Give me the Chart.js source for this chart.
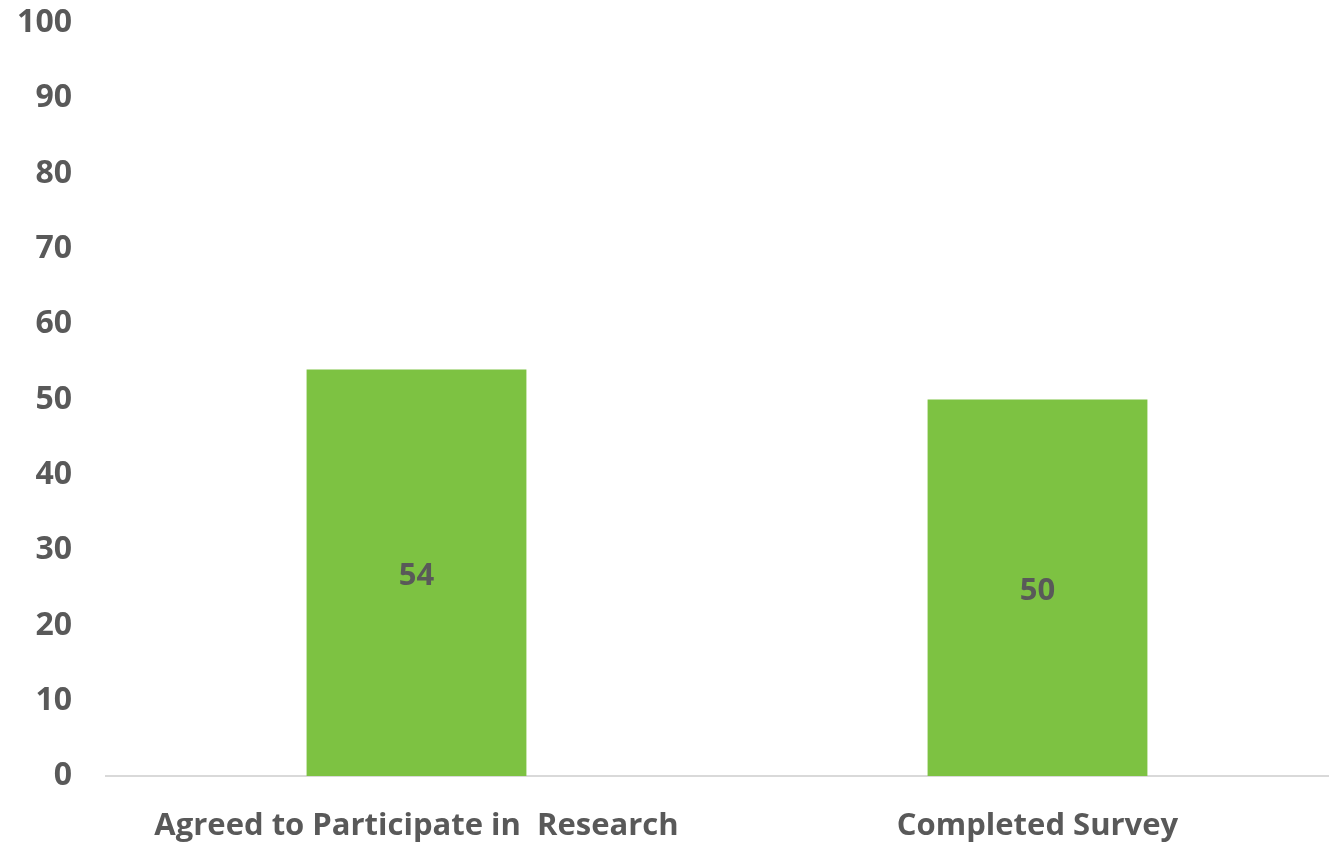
<!DOCTYPE html>
<html>
<head>
<meta charset="utf-8">
<script src="https://cdn.jsdelivr.net/npm/chart.js@4"></script>
<style>
  html, body { margin: 0; padding: 0; background: #fff; overflow: hidden; }
  #wrap { width: 1348px; height: 845px; position: relative; }
</style>
</head>
<body>
<div id="wrap"><canvas id="surveyChart"></canvas></div>
<script>
// Chart data
const categories = ['Agreed to Participate in  Research', 'Completed Survey'];
const participantCounts = [54, 50];
const yTicks = [0, 10, 20, 30, 40, 50, 60, 70, 80, 90, 100];

const BAR_COLOR = '#7DC242';
const TEXT_COLOR = '#595959';
const FONT_FAMILY = '"Open Sans", sans-serif';

// Value labels drawn in the middle of each bar
const barValueLabels = {
  id: 'barValueLabels',
  afterDatasetsDraw(chart) {
    const { ctx } = chart;
    ctx.save();
    ctx.font = `bold 31px ${FONT_FAMILY}`;
    ctx.fillStyle = TEXT_COLOR;
    ctx.textAlign = 'center';
    ctx.textBaseline = 'middle';
    chart.data.datasets.forEach((dataset, i) => {
      chart.getDatasetMeta(i).data.forEach((bar, index) => {
        const mid = (bar.y + bar.base) / 2;
        ctx.fillText(dataset.data[index], bar.x, mid + 3);
      });
    });
    ctx.restore();
  }
};

new Chart(document.getElementById('surveyChart'), {
  type: 'bar',
  data: {
    labels: categories,
    datasets: [{
      data: participantCounts,
      backgroundColor: BAR_COLOR,
      borderWidth: 0,
      barPercentage: 0.354,
      categoryPercentage: 1
    }]
  },
  plugins: [barValueLabels],
  options: {
    responsive: true,
    maintainAspectRatio: false,
    animation: false,
    layout: { padding: { top: 23, left: 0, right: 0, bottom: 0 } },
    plugins: {
      legend: { display: false },
      tooltip: { enabled: false }
    },
    scales: {
      x: {
        grid: { display: false, drawTicks: false },
        border: { display: true, color: '#D9D9D9', width: 2 },
        ticks: {
          font: { family: FONT_FAMILY, size: 31, weight: 'bold' },
          color: TEXT_COLOR,
          padding: 32,
          maxRotation: 0,
          autoSkip: false
        },
        afterFit(scale) { scale.height = 69; }
      },
      y: {
        min: 0,
        max: 100,
        afterBuildTicks(scale) { scale.ticks = yTicks.map(v => ({ value: v })); },
        grid: { display: false, drawTicks: false },
        border: { display: false },
        ticks: {
          font: { family: FONT_FAMILY, size: 32, weight: 'bold' },
          color: TEXT_COLOR,
          padding: 34
        },
        afterFit(scale) {
          scale.width = 106;
          scale.paddingTop = 0;
          scale.paddingBottom = 0;
        }
      }
    }
  }
});
</script>
</body>
</html>
